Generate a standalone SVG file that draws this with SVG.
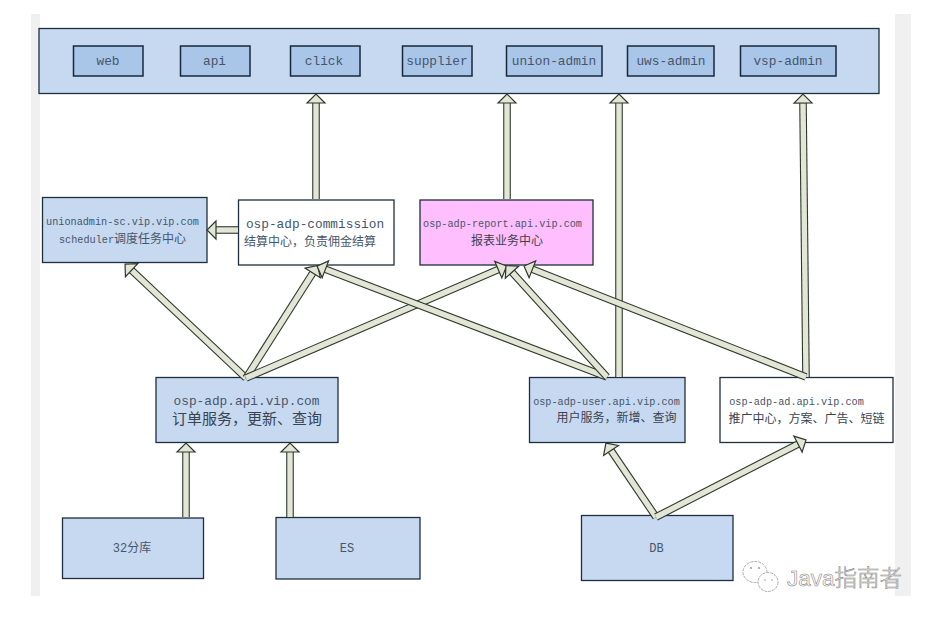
<svg xmlns="http://www.w3.org/2000/svg" width="935" height="618" viewBox="0 0 935 618">
<style>
text{font-family:"Liberation Mono","Noto Sans CJK SC",monospace;fill:#46566a;text-anchor:middle}
.box{fill:#c6d9f1;stroke:#1f2f3c;stroke-width:1.3}
.white{fill:#fff}
.pink{fill:#ffbfff}
.inner{fill:#a9c5e8;stroke:#16293c;stroke-width:1.5}
.o{stroke:#2d3a2a;stroke-width:7.6}
.i{stroke:#e3e5d6;stroke-width:5.4;marker-end:url(#head)}
.band{fill:#f0f0f0}
.s13{font-size:12.8px}
.s10{font-size:10.2px}
.cn12{font-size:12px}
.dark{fill:#3a4450}
.wm{font-family:"Liberation Sans","Noto Sans CJK SC",sans-serif;font-size:22.500px;font-weight:300;fill:#fff;stroke:#8a8a8a;stroke-width:.6;text-anchor:start}
.ic{fill:#fff;stroke:#aaa;stroke-width:1;stroke-dasharray:3 1}
.eye{fill:#999}
</style>
<defs>
<marker id="head" markerUnits="userSpaceOnUse" markerWidth="14" markerHeight="22" refX="1" refY="11" orient="auto" viewBox="0 0 14 22">
<path d="M1 2L10 11L1 20Z" fill="#e3e5d6" stroke="#2d3a2a" stroke-width="1.2"/>
</marker>
</defs>
<rect width="935" height="618" fill="#fff"/>
<rect class="band" x="31" y="14" width="9" height="582"/>
<rect class="band" x="895" y="14" width="16" height="582"/>

<g id="top-tier">
<rect class="box" x="39" y="28.500" width="840" height="65"/>
</g>
<g id="web"><rect class="inner" x="73.500" y="46" width="69.500" height="30"/><text class="s13" x="108" y="65">web</text></g>
<g id="api"><rect class="inner" x="180.500" y="46" width="69.500" height="30"/><text class="s13" x="214.500" y="65">api</text></g>
<g id="click"><rect class="inner" x="290.500" y="46" width="69.500" height="30"/><text class="s13" x="324" y="65">click</text></g>
<g id="supplier"><rect class="inner" x="402.500" y="46" width="69.500" height="30"/><text class="s13" x="437" y="65">supplier</text></g>
<g id="union-admin"><rect class="inner" x="506.500" y="46" width="95.500" height="30"/><text class="s13" x="554" y="65">union-admin</text></g>
<g id="uws-admin"><rect class="inner" x="627.500" y="46" width="86.500" height="30"/><text class="s13" x="671" y="65">uws-admin</text></g>
<g id="vsp-admin"><rect class="inner" x="740.500" y="46" width="95.500" height="30"/><text class="s13" x="788" y="65">vsp-admin</text></g>

<g id="scheduler"><rect class="box" x="42.500" y="197.500" width="164.500" height="65"/>
<text class="s10" x="122.500" y="224.500">unionadmin-sc.vip.vip.com</text>
<text class="s10" x="122.500" y="243">scheduler<tspan class="cn12">调度任务中心</tspan></text></g>
<g id="commission"><rect class="box white" x="238.500" y="200" width="155.500" height="65"/>
<text class="s13" x="315" y="228">osp-adp-commission</text>
<text class="cn12" x="310" y="246">结算中心，负责佣金结算</text></g>
<g id="report"><rect class="box pink" x="420" y="200" width="173" height="65"/>
<text class="s10" x="502.500" y="227">osp-adp-report.api.vip.com</text>
<text class="cn12 dark" x="507" y="245">报表业务中心</text></g>
<g id="adp"><rect class="box" x="156" y="377.500" width="182" height="65"/>
<text class="s13" x="246.500" y="405">osp-adp.api.vip.com</text>
<text class="dark" style="font-size:15px" x="247" y="424">订单服务，更新、查询</text></g>
<g id="user"><rect class="box" x="529.500" y="377.500" width="155.500" height="65"/>
<text class="s10" x="606.500" y="405">osp-adp-user.api.vip.com</text>
<text class="cn12 dark" x="616.500" y="422">用户服务，新增、查询</text></g>
<g id="ad"><rect class="box white" x="720" y="377.500" width="173" height="65"/>
<text class="s10" x="796.500" y="405">osp-adp-ad.api.vip.com</text>
<text class="cn12 dark" x="806.500" y="423">推广中心，方案、广告、短链</text></g>
<g id="shards"><rect class="box" x="62.500" y="518" width="141" height="60.500"/>
<text class="cn12" x="132" y="552">32分库</text></g>
<g id="es"><rect class="box" x="276" y="517.500" width="144" height="61.500"/>
<text class="cn12" x="347" y="552">ES</text></g>
<g id="db"><rect class="box" x="581.500" y="515.500" width="151.500" height="65"/>
<text class="cn12" x="656.500" y="552">DB</text></g>

<g id="connectors">
<line class="o" x1="316" y1="199" x2="316" y2="103"/><line class="i" x1="316" y1="199" x2="316" y2="103"/>
<line class="o" x1="507" y1="199" x2="507" y2="103"/><line class="i" x1="507" y1="199" x2="507" y2="103"/>
<line class="o" x1="619" y1="377" x2="619" y2="103"/><line class="i" x1="619" y1="377" x2="619" y2="103"/>
<line class="o" x1="806" y1="377" x2="803" y2="103"/><line class="i" x1="806" y1="377" x2="803" y2="103"/>
<line class="o" x1="238" y1="230" x2="216" y2="230"/><line class="i" x1="238" y1="230" x2="216" y2="230"/>
<line class="o" x1="246" y1="378" x2="131.600" y2="270.200"/><line class="i" x1="246" y1="378" x2="131.600" y2="270.200"/>
<line class="o" x1="246" y1="378" x2="312.800" y2="273"/><line class="i" x1="246" y1="378" x2="312.800" y2="273"/>
<line class="o" x1="246" y1="378" x2="498.300" y2="269.600"/><line class="i" x1="246" y1="378" x2="498.300" y2="269.600"/>
<line class="o" x1="607" y1="377" x2="325.400" y2="269.300"/><line class="i" x1="607" y1="377" x2="325.400" y2="269.300"/>
<line class="o" x1="607" y1="377" x2="512" y2="272.200"/><line class="i" x1="607" y1="377" x2="512" y2="272.200"/>
<line class="o" x1="806" y1="377" x2="532.400" y2="269.300"/><line class="i" x1="806" y1="377" x2="532.400" y2="269.300"/>
<line class="o" x1="186" y1="517" x2="186" y2="452"/><line class="i" x1="186" y1="517" x2="186" y2="452"/>
<line class="o" x1="290" y1="517" x2="290" y2="452"/><line class="i" x1="290" y1="517" x2="290" y2="452"/>
<line class="o" x1="656" y1="517" x2="611" y2="450.500"/><line class="i" x1="656" y1="517" x2="611" y2="450.500"/>
<line class="o" x1="656" y1="517" x2="798" y2="444.100"/><line class="i" x1="656" y1="517" x2="798" y2="444.100"/>
</g>

<ellipse class="ic" cx="755" cy="572" rx="12" ry="10.500"/>
<ellipse class="ic" cx="768" cy="582" rx="10" ry="9.500"/>
<circle class="eye" cx="751" cy="568" r="1"/><circle class="eye" cx="759" cy="568" r="1"/>
<circle class="eye" cx="765" cy="580" r=".8"/><circle class="eye" cx="772" cy="580" r=".8"/>
<text class="wm" x="787" y="586">Java指南者</text>
</svg>
